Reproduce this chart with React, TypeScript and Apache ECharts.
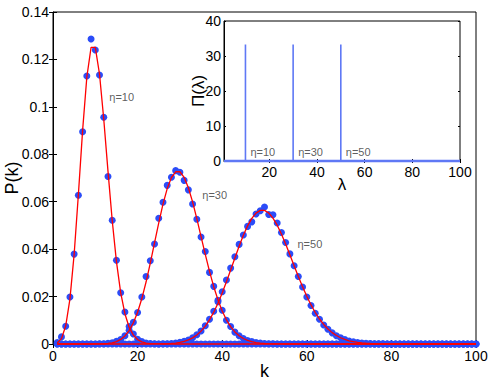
import React, { useEffect, useRef } from "react";
import * as echarts from "echarts";

// k values of the distribution (1..100)
const kValues: number[] = Array.from({ length: 100 }, (_, i) => i + 1);

// eta = 10 : fitted curve (red) and simulated points (blue), starting at k = 1
const start10 = 1;
const fit10 = [0.00045, 0.00227, 0.00757, 0.01892, 0.03783, 0.06306, 0.09008, 0.1126, 0.12511, 0.12511, 0.11374, 0.09478, 0.07291, 0.05208, 0.03472, 0.0217, 0.01276, 0.00709, 0.00373, 0.00187, 0.00089, 0.0004, 0.00018, 0.00007, 0.00003];
const dots10 = [0.0006, 0.003, 0.0075, 0.0198, 0.0379, 0.0627, 0.0895, 0.113, 0.1286, 0.124, 0.1134, 0.0956, 0.0706, 0.0522, 0.0353, 0.0216, 0.0135, 0.0074, 0.0042, 0.002, 0.001, 0.0004, 0.0002, 0.0001, 0];

// eta = 30 : starting at k = 10
const start30 = 10;
const fit30 = [0.00002, 0.00004, 0.0001, 0.00024, 0.00051, 0.00103, 0.00193, 0.0034, 0.00566, 0.00894, 0.01341, 0.01916, 0.02613, 0.03408, 0.0426, 0.05111, 0.05898, 0.06553, 0.07021, 0.07263, 0.07263, 0.07029, 0.0659, 0.05991, 0.05286, 0.04531, 0.03776, 0.03061, 0.02417, 0.01859, 0.01394, 0.0102, 0.00729, 0.00508, 0.00347, 0.00231, 0.00151, 0.00096, 0.0006, 0.00037, 0.00022, 0.00013, 0.00007, 0.00004, 0.00002, 0.00001];
const dots30 = [0, 0.0001, 0.0001, 0.0003, 0.0005, 0.0011, 0.0019, 0.0035, 0.0058, 0.0092, 0.0133, 0.0198, 0.0285, 0.0351, 0.0422, 0.053, 0.0598, 0.0669, 0.0703, 0.0731, 0.0724, 0.069, 0.065, 0.059, 0.0526, 0.0451, 0.039, 0.0302, 0.0243, 0.0184, 0.0142, 0.01, 0.0074, 0.005, 0.0035, 0.0023, 0.0015, 0.001, 0.0006, 0.0004, 0.0002, 0.0001, 0.0001, 0, 0, 0];

// eta = 50 : starting at k = 24
const start50 = 24;
const fit50 = [0.00002, 0.00004, 0.00007, 0.00013, 0.00024, 0.00041, 0.00068, 0.00109, 0.00171, 0.00259, 0.0038, 0.00543, 0.00755, 0.0102, 0.01342, 0.0172, 0.0215, 0.02622, 0.03122, 0.0363, 0.04125, 0.04583, 0.04981, 0.05299, 0.0552, 0.05633, 0.05633, 0.05523, 0.0531, 0.0501, 0.04639, 0.04217, 0.03765, 0.03303, 0.02847, 0.02413, 0.02011, 0.01648, 0.01329, 0.01055, 0.00824, 0.00634, 0.0048, 0.00358, 0.00263, 0.00191, 0.00136, 0.00096, 0.00067, 0.00046, 0.00031, 0.00021, 0.00014, 0.00009, 0.00006, 0.00004, 0.00002, 0.00001, 0.00001];
const dots50 = [0, 0, 0.0001, 0.0001, 0.0002, 0.0004, 0.0007, 0.0011, 0.0017, 0.0026, 0.0039, 0.0055, 0.0077, 0.0104, 0.0138, 0.0178, 0.022, 0.027, 0.032, 0.0368, 0.042, 0.046, 0.0496, 0.0515, 0.0548, 0.0562, 0.0578, 0.0546, 0.0545, 0.051, 0.047, 0.0428, 0.038, 0.033, 0.0285, 0.024, 0.0198, 0.0162, 0.013, 0.0104, 0.008, 0.0062, 0.0047, 0.0035, 0.0026, 0.0019, 0.0013, 0.0009, 0.0006, 0.0004, 0.0003, 0.0002, 0.0001, 0.0001, 0.0001, 0, 0, 0, 0];

// curve annotations (label, x, y in data units)
const curveLabels = ["η=10", "η=30", "η=50"];
const curveLabelX = [13.3, 35.3, 57.8];
const curveLabelY = [0.104, 0.063, 0.042];

// inset: Π(λ) spikes
const spikeLambda = [10, 30, 50];
const spikeHeight = [33.3, 33.3, 33.3];
const spikeLabels = ["η=10", "η=30", "η=50"];

function expand(start: number, vals: number[]) {
  return kValues.map((k) => {
    const i = k - start;
    return [k, i >= 0 && i < vals.length ? vals[i] : 0];
  });
}

const FONT = "Liberation Sans, Arial, Helvetica, sans-serif";

export default function App() {
  const ref = useRef<HTMLDivElement>(null);
  useEffect(() => {
    if (!ref.current) return;
    const chart = echarts.init(ref.current, undefined, { renderer: "svg" });

    const spikeData: number[][] = [[1, 0]];
    spikeLambda.forEach((l, i) => {
      spikeData.push([l, 0], [l, spikeHeight[i]], [l, 0]);
    });
    spikeData.push([100, 0]);

    const dotColor = "#2b4cf8";
    const redColor = "#ff0000";
    const insetBlue = "#5f78f5";

    const mainTick = { show: true, inside: true, length: 4, lineStyle: { color: "#000" } };
    const insetTick = { show: true, inside: true, length: 2, lineStyle: { color: "#000" } };
    const label14 = { color: "#000", fontSize: 14, fontFamily: FONT };

    const dotSeries = [
      [start10, dots10],
      [start30, dots30],
      [start50, dots50],
    ].map(([s, v]) => ({
      type: "scatter",
      xAxisIndex: 0,
      yAxisIndex: 0,
      data: expand(s as number, v as number[]),
      symbol: "circle",
      symbolSize: 7,
      itemStyle: { color: dotColor, opacity: 1 },
      clip: false,
      z: 2,
    }));
    const fitSeries = [
      [start10, fit10],
      [start30, fit30],
      [start50, fit50],
    ].map(([s, v]) => ({
      type: "line",
      xAxisIndex: 0,
      yAxisIndex: 0,
      data: expand(s as number, v as number[]),
      showSymbol: false,
      symbol: "none",
      lineStyle: { color: redColor, width: 1.3 },
      clip: false,
      z: 3,
    }));

    const textLabel = (dist: number) => ({
      show: true, position: "right", distance: dist, formatter: "{b}",
      color: "#333", fontSize: 11, fontFamily: FONT, textBorderWidth: 0,
    });

    const option: any = {
      animation: false,
      grid: [
        { left: 53, right: 15, top: 12, bottom: 40, show: true, borderColor: "#000", borderWidth: 1, backgroundColor: "transparent", containLabel: false, outerBoundsMode: "none" },
        { left: 224, top: 21, width: 236, height: 140, show: true, borderColor: "#000", borderWidth: 1, backgroundColor: "#fff", z: 5, containLabel: false, outerBoundsMode: "none" },
      ],
      xAxis: [
        {
          type: "value", gridIndex: 0, min: 0, max: 100, interval: 20,
          axisLine: { show: true, onZero: false, lineStyle: { color: "#000", width: 1 } },
          axisTick: mainTick, splitLine: { show: false },
          axisLabel: { ...label14, margin: 5 },
          name: "k", nameLocation: "middle", nameGap: 17, nameMoveOverlap: false,
          nameTextStyle: { color: "#000", fontSize: 18, fontFamily: FONT, verticalAlign: "top", lineHeight: 20 },
        },
        {
          type: "value", gridIndex: 0, position: "top", min: 0, max: 100, interval: 20,
          axisLine: { show: false }, axisTick: mainTick, axisLabel: { show: false }, splitLine: { show: false },
        },
        {
          type: "value", gridIndex: 1, min: 1, max: 100,
          axisLine: { show: true, onZero: false, lineStyle: { color: "#000", width: 1 } },
          axisTick: { ...insetTick, customValues: [20, 40, 60, 80, 100] },
          axisLabel: { ...label14, margin: 4, customValues: [20, 40, 60, 80, 100] },
          splitLine: { show: false },
          name: "λ", nameLocation: "middle", nameGap: 15, nameMoveOverlap: false,
          nameTextStyle: { color: "#000", fontSize: 17, fontFamily: FONT, verticalAlign: "top" },
          z: 6,
        },
        {
          type: "value", gridIndex: 1, position: "top", min: 1, max: 100,
          axisLine: { show: false },
          axisTick: { ...insetTick, customValues: [20, 40, 60, 80, 100] },
          axisLabel: { show: false, customValues: [20, 40, 60, 80, 100] }, splitLine: { show: false },
          z: 6,
        },
      ],
      yAxis: [
        {
          type: "value", gridIndex: 0, min: 0, max: 0.14, interval: 0.02,
          axisLine: { show: true, onZero: false, lineStyle: { color: "#000", width: 1 } },
          axisTick: mainTick, splitLine: { show: false },
          axisLabel: { ...label14, margin: 4 },
          name: "P(k)", nameLocation: "middle", nameGap: 31, nameRotate: 90, nameMoveOverlap: false,
          nameTextStyle: { color: "#000", fontSize: 18, fontFamily: FONT, lineHeight: 20 },
        },
        {
          type: "value", gridIndex: 0, position: "right", min: 0, max: 0.14, interval: 0.02,
          axisLine: { show: false }, axisTick: mainTick, axisLabel: { show: false }, splitLine: { show: false },
        },
        {
          type: "value", gridIndex: 1, min: 0, max: 40, interval: 10,
          axisLine: { show: true, onZero: false, lineStyle: { color: "#000", width: 1 } },
          axisTick: insetTick, splitLine: { show: false },
          axisLabel: { ...label14, margin: 3 },
          name: "Π(λ)", nameLocation: "middle", nameGap: 17, nameRotate: 90, nameMoveOverlap: false,
          nameTextStyle: { color: "#000", fontSize: 17, fontFamily: FONT },
          z: 6,
        },
        {
          type: "value", gridIndex: 1, position: "right", min: 0, max: 40, interval: 10,
          axisLine: { show: false }, axisTick: insetTick, axisLabel: { show: false }, splitLine: { show: false },
          z: 6,
        },
      ],
      series: [
        ...dotSeries,
        ...fitSeries,
        {
          type: "scatter",
          xAxisIndex: 0, yAxisIndex: 0,
          data: curveLabels.map((t, i) => ({ value: [curveLabelX[i], curveLabelY[i]], name: t })),
          symbolSize: 0,
          itemStyle: { color: "#333" },
          label: textLabel(0),
          silent: true,
          z: 4,
        },
        {
          type: "line",
          xAxisIndex: 2, yAxisIndex: 2,
          data: spikeData,
          showSymbol: false, symbol: "none",
          lineStyle: { color: insetBlue, width: 1.6 },
          clip: false,
          z: 7,
        },
        {
          type: "line",
          xAxisIndex: 2, yAxisIndex: 2,
          data: [[1, 0], [100, 0]],
          showSymbol: false, symbol: "none",
          lineStyle: { color: insetBlue, width: 2.5 },
          clip: false,
          z: 7,
        },
        {
          type: "scatter",
          xAxisIndex: 2, yAxisIndex: 2,
          data: spikeLabels.map((t, i) => ({ value: [spikeLambda[i], 2.6], name: t })),
          symbolSize: 0,
          itemStyle: { color: "#333" },
          label: textLabel(5),
          silent: true,
          z: 8,
        },
      ],
    };
    chart.setOption(option);
    return () => chart.dispose();
  }, []);
  return (
    <div
      ref={ref}
      style={{ position: "fixed", left: 0, top: 0, width: 491, height: 384, background: "#fff" }}
    />
  );
}
